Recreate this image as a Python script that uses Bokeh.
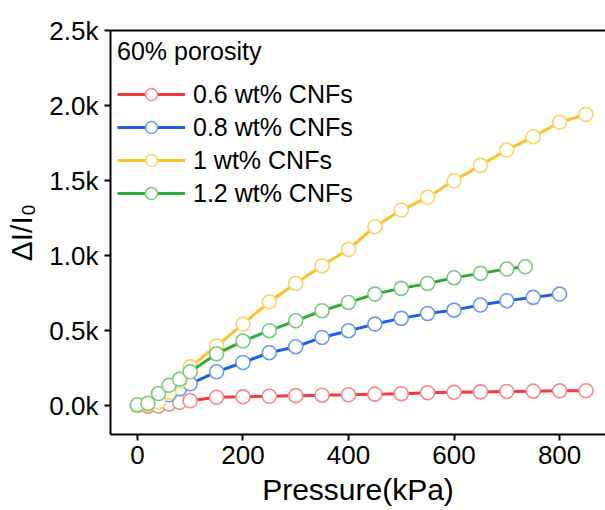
from bokeh.plotting import figure
from bokeh.models import Range1d, FixedTicker, LinearAxis, Legend
from bokeh.embed import file_html
from bokeh.resources import INLINE

# ---- data ----
p_06 = [0, 20, 40, 60, 80, 100, 150, 200, 250, 300, 350, 400, 450, 500, 550, 600, 650, 700, 750, 800, 850]
v_06 = [0, -5, -3, 10, 22, 32, 55, 58, 62, 66, 69, 72, 76, 79, 85, 88, 91, 94, 96, 98, 99]

p_08 = [0, 20, 40, 60, 80, 100, 150, 200, 250, 300, 350, 400, 450, 500, 550, 600, 650, 700, 750, 800]
v_08 = [0, 8, 30, 72, 112, 145, 225, 287, 352, 392, 454, 499, 543, 581, 614, 636, 670, 699, 721, 743]

p_10 = [0, 20, 40, 60, 80, 100, 150, 200, 250, 300, 350, 400, 450, 500, 550, 600, 650, 700, 750, 800, 850]
v_10 = [0, 5, 25, 88, 160, 258, 398, 543, 692, 814, 932, 1041, 1192, 1303, 1388, 1498, 1601, 1703, 1792, 1888, 1941]

p_12 = [0, 20, 40, 60, 80, 100, 150, 200, 250, 300, 350, 400, 450, 500, 550, 600, 650, 700, 735]
v_12 = [5, 15, 80, 135, 175, 225, 345, 430, 499, 565, 632, 687, 743, 781, 814, 852, 881, 910, 925]

series_labels = ["0.6 wt% CNFs", "0.8 wt% CNFs", "1 wt% CNFs", "1.2 wt% CNFs"]
legend_title = "60% porosity"

x_ticks = [0, 200, 400, 600, 800]
y_ticks = [0, 500, 1000, 1500, 2000, 2500]
y_tick_labels = ["0.0k", "0.5k", "1.0k", "1.5k", "2.0k", "2.5k"]

FONT = "Liberation Sans"

p = figure(width=605, height=510, output_backend="svg", toolbar_location=None,
           x_range=Range1d(-51, 887), y_range=Range1d(-193, 2500),
           min_border_left=110, min_border_top=30, min_border_right=0, min_border_bottom=76)
p.outline_line_color = None
p.xgrid.visible = False
p.ygrid.visible = False
p.background_fill_color = "white"

styles = [
    ("#EE3B3F", "#F48A8C"),
    ("#1E5FE3", "#6C9CF0"),
    ("#FDC12C", "#FDD46A"),
    ("#34A93A", "#7CC87C"),
]
data = [(p_06, v_06), (p_08, v_08), (p_10, v_10), (p_12, v_12)]

items = []
for (xs, ys), (lc, mc), lab in zip(data, styles, series_labels):
    r1 = p.line(xs, ys, line_color=lc, line_width=3)
    r2 = p.scatter(xs, ys, marker="circle", size=14, fill_color="white",
                   line_color=mc, line_width=1.6)
    items.append((lab, [r1, r2]))

legend = Legend(items=items, location="top_left", title=legend_title)
legend.title_text_font = FONT
legend.title_text_font_size = "25px"
legend.title_text_font_style = "normal"
legend.title_text_color = "black"
legend.title_standoff = 13
legend.label_text_font = FONT
legend.label_text_font_size = "25px"
legend.label_text_color = "black"
legend.glyph_width = 68
legend.glyph_height = 30
legend.spacing = 3
legend.label_standoff = 8
legend.margin = 7
legend.padding = 5
legend.border_line_color = None
legend.background_fill_alpha = 0
p.add_layout(legend)

# axes
for ax in (p.xaxis[0], p.yaxis[0]):
    ax.axis_line_width = 2
    ax.axis_line_color = "black"
    ax.major_tick_line_width = 2
    ax.major_tick_line_color = "black"
    ax.major_tick_in = 0
    ax.major_tick_out = 6
    ax.minor_tick_line_color = None
    ax.major_label_text_font = FONT
    ax.major_label_text_font_size = "26px"
    ax.major_label_text_color = "black"
    ax.axis_label_text_font = FONT
    ax.axis_label_text_font_size = "30px"
    ax.axis_label_text_font_style = "normal"
    ax.axis_label_text_color = "black"

p.xaxis[0].ticker = FixedTicker(ticks=x_ticks)
p.xaxis[0].axis_label = "Pressure(kPa)"
p.xaxis[0].axis_label_standoff = 6
p.xaxis[0].major_label_standoff = 5

p.yaxis[0].ticker = FixedTicker(ticks=y_ticks)
p.yaxis[0].major_label_overrides = {t: s for t, s in zip(y_ticks, y_tick_labels)}
p.yaxis[0].axis_label = "ΔI/I₀"
p.yaxis[0].axis_label_standoff = 8
p.yaxis[0].major_label_standoff = 6

top = LinearAxis(ticker=FixedTicker(ticks=[]), axis_line_width=2, axis_line_color="black",
                 major_tick_line_color=None, minor_tick_line_color=None,
                 major_label_text_font_size="0px")
p.add_layout(top, "above")

open("out.html", "w").write(file_html(p, INLINE))
